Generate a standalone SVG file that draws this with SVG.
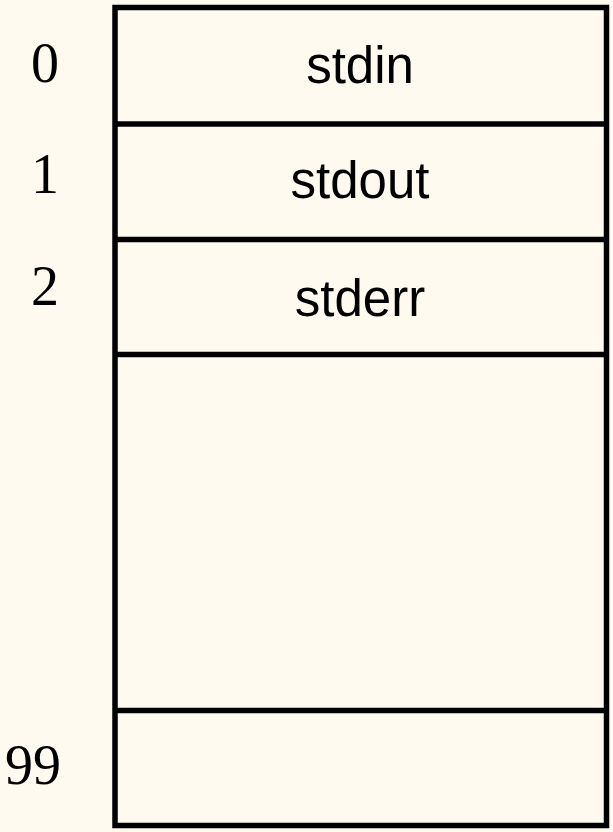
<svg xmlns="http://www.w3.org/2000/svg" width="613" height="832" viewBox="0 0 613 832">
<style>
.box{fill:none;stroke:#000;stroke-width:5.5}
.num{font-family:"Liberation Serif","Times New Roman",serif;font-size:56px;fill:#000;text-anchor:middle}
.lbl{font-family:"Liberation Sans",Arial,sans-serif;font-size:51px;fill:#000;text-anchor:middle}
</style>
<rect width="613" height="832" fill="#fefaf0"/>
<g id="table">
<rect class="box" x="115" y="7.5" width="491.5" height="818"/>
</g>
<g id="connectors">
<line class="box" x1="115" y1="124" x2="606.5" y2="124"/>
<line class="box" x1="115" y1="239.5" x2="606.5" y2="239.5"/>
<line class="box" x1="115" y1="354.5" x2="606.5" y2="354.5"/>
<line class="box" x1="115" y1="710.5" x2="606.5" y2="710.5"/>
</g>
<g id="row0"><text class="num" x="45" y="82">0</text><text class="lbl" x="360" y="83">stdin</text></g>
<g id="row1"><text class="num" x="45" y="193">1</text><text class="lbl" x="360" y="198">stdout</text></g>
<g id="row2"><text class="num" x="45" y="305">2</text><text class="lbl" x="360" y="316">stderr</text></g>
<g id="row99"><text class="num" x="33" y="784">99</text></g>
</svg>
